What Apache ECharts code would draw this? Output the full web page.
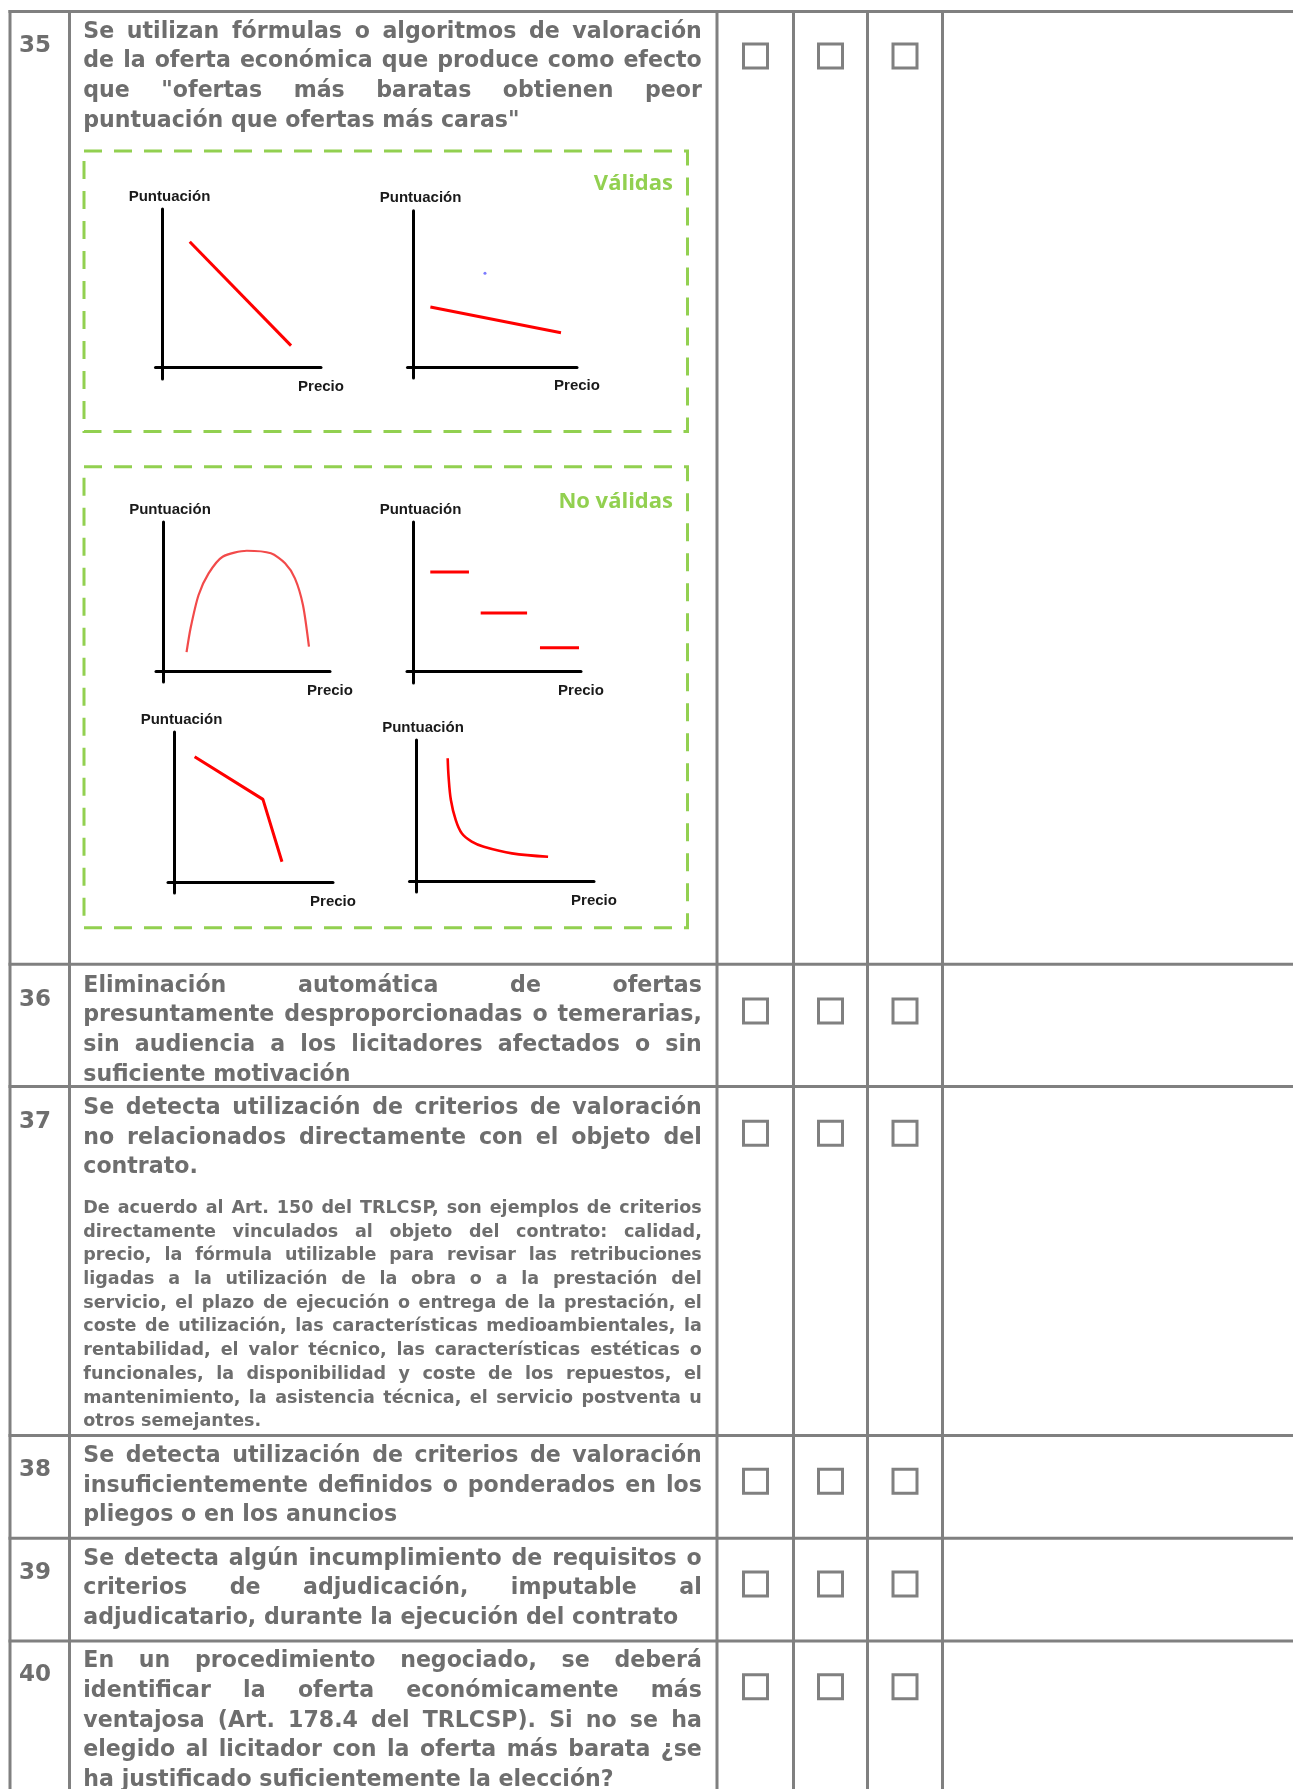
<!DOCTYPE html>
<html>
<head>
<meta charset="utf-8">
<script src="https://cdn.jsdelivr.net/npm/echarts@6/dist/echarts.min.js"></script>
<style>
  html, body { margin: 0; padding: 0; background: #fff; }
  #main { width: 1293px; height: 1789px; }
</style>
</head>
<body>
<div id="main"></div>
<script>
  // ---- table content ----
  var rowNumbers = ['35', '36', '37', '38', '39', '40']
  var rowTexts = [
    ['Se utilizan fórmulas o algoritmos de valoración',
      'de la oferta económica que produce como efecto',
      'que "ofertas más baratas obtienen peor',
      'puntuación que ofertas más caras"'],
    ['Eliminación automática de ofertas',
      'presuntamente desproporcionadas o temerarias,',
      'sin audiencia a los licitadores afectados o sin',
      'suficiente motivación'],
    ['Se detecta utilización de criterios de valoración',
      'no relacionados directamente con el objeto del',
      'contrato.'],
    ['Se detecta utilización de criterios de valoración',
      'insuficientemente definidos o ponderados en los',
      'pliegos o en los anuncios'],
    ['Se detecta algún incumplimiento de requisitos o',
      'criterios de adjudicación, imputable al',
      'adjudicatario, durante la ejecución del contrato'],
    ['En un procedimiento negociado, se deberá',
      'identificar la oferta económicamente más',
      'ventajosa (Art. 178.4 del TRLCSP). Si no se ha',
      'elegido al licitador con la oferta más barata ¿se',
      'ha justificado suficientemente la elección?']
  ]
  var noteLines = [
    'De acuerdo al Art. 150 del TRLCSP, son ejemplos de criterios',
    'directamente vinculados al objeto del contrato: calidad,',
    'precio, la fórmula utilizable para revisar las retribuciones',
    'ligadas a la utilización de la obra o a la prestación del',
    'servicio, el plazo de ejecución o entrega de la prestación, el',
    'coste de utilización, las características medioambientales, la',
    'rentabilidad, el valor técnico, las características estéticas o',
    'funcionales, la disponibilidad y coste de los repuestos, el',
    'mantenimiento, la asistencia técnica, el servicio postventa u',
    'otros semejantes.'
  ]
  var groupTitles = ['Válidas', 'No válidas']
  var axisNames = ['Puntuación', 'Precio']

  // ---- mini chart data (axis length 0..10 each way) ----
  var lineA = [[1.72, 7.93], [8.11, 1.35]]
  var lineB = [[1.03, 3.83], [9.02, 2.18]]
  var dotB = [[4.37, 6.0]]
  var curveC = [[1.41, 1.26], [1.65, 2.87], [2.13, 5.1], [2.73, 6.55], [3.57, 7.67], [5.02, 8.07],
    [6.46, 7.9], [7.31, 7.23], [7.9, 6.22], [8.38, 4.43], [8.74, 1.63]]
  var stepsF = [
    [[1.0, 6.64], [3.31, 6.64]],
    [[4.01, 3.89], [6.78, 3.89]],
    [[7.55, 1.56], [9.88, 1.56]]
  ]
  var lineD = [[1.27, 8.35], [5.58, 5.51], [6.78, 1.35]]
  var curveE = [[1.78, 8.7], [1.83, 7.4], [1.96, 5.74], [2.23, 4.33], [2.57, 3.38], [3.13, 2.79],
    [3.81, 2.43], [5.39, 1.96], [7.42, 1.72]]

  // ---- layout ----
  var FAMILY = '"DejaVu Sans"'
  var TEXT_COLOR = '#6e6e6e'
  var LINE_COLOR = '#808080'
  var GREEN = '#92d050'
  var TEXT_X = 83.3
  var TEXT_W = 618.5
  var colX = [10, 69.5, 717, 793.5, 867.5, 942.5]
  var rowY = [11.5, 964.3, 1086.4, 1435.6, 1538.3, 1641]
  var firstLineY = [31.9, 986, 1108.1, 1456.2, 1558.9, 1661.6]
  var numberY = [45.7, 999.7, 1121.8, 1469.9, 1572.6, 1675.3]
  var boxY = [55.9, 1011.1, 1133.2, 1481.3, 1584, 1686.7]
  var boxX = [755.5, 830.5, 905]
  var panels = [
    { left: 155.5, top: 209, width: 165.5, height: 170, xMin: -0.44, yMin: -0.76 },
    { left: 407.5, top: 210.7, width: 169.5, height: 167.3, xMin: -0.37, yMin: -0.72 },
    { left: 156, top: 522, width: 174, height: 160, xMin: -0.42, yMin: -0.74 },
    { left: 407, top: 522, width: 174, height: 161, xMin: -0.39, yMin: -0.81 },
    { left: 168, top: 732, width: 165, height: 161, xMin: -0.41, yMin: -0.73 },
    { left: 409.5, top: 740, width: 184.5, height: 152, xMin: -0.365, yMin: -0.78 }
  ]

  var mctx = document.createElement('canvas').getContext('2d')
  function textWidth(s, font) {
    mctx.font = font
    return mctx.measureText(s).width
  }

  // font size so that the short last lines keep their width, and justified lines still fit
  function fitSize(samples, lines) {
    var base = 20
    var font = 'bold ' + base + 'px ' + FAMILY
    var measured = 0
    var target = 0
    samples.forEach(function (s) {
      measured += textWidth(s[0], font)
      target += s[1]
    })
    var size = (base * target) / measured
    lines.forEach(function (l) {
      var words = l.split(' ')
      var w = words.reduce(function (a, b) { return a + textWidth(b, font) }, 0)
      size = Math.min(size, (base * (TEXT_W - 5 * (words.length - 1))) / w)
    })
    return size
  }

  var justifiedMain = []
  rowTexts.forEach(function (p) { justifiedMain = justifiedMain.concat(p.slice(0, -1)) })
  var mainSize = fitSize([
    ['puntuación que ofertas más caras"', 445],
    ['suficiente motivación', 269],
    ['contrato.', 113],
    ['pliegos o en los anuncios', 317],
    ['ha justificado suficientemente la elección?', 519]
  ], justifiedMain)
  var noteSize = fitSize([['otros semejantes.', 178]], noteLines.slice(0, -1))

  var elements = []

  function paragraph(lines, y0, lh, size) {
    var font = 'bold ' + size + 'px ' + FAMILY
    var space = textWidth(' ', font)
    lines.forEach(function (line, i) {
      var words = line.split(' ')
      var widths = words.map(function (w) { return textWidth(w, font) })
      var total = widths.reduce(function (a, b) { return a + b }, 0)
      var last = i === lines.length - 1
      var gap = last || words.length < 2 ? space : (TEXT_W - total) / (words.length - 1)
      var x = TEXT_X
      words.forEach(function (w, j) {
        elements.push({
          type: 'text', x: x, y: y0 + i * lh, silent: true,
          style: { text: w, font: font, fill: TEXT_COLOR, textVerticalAlign: 'middle', verticalAlign: 'middle' }
        })
        x += widths[j] + gap
      })
    })
  }

  // table rules
  var lineStyle = { stroke: LINE_COLOR, lineWidth: 3 }
  colX.forEach(function (x) {
    elements.push({ type: 'line', silent: true, shape: { x1: x, y1: rowY[0] - 1.5, x2: x, y2: 1789 }, style: lineStyle })
  })
  rowY.forEach(function (y) {
    elements.push({ type: 'line', silent: true, shape: { x1: colX[0] - 1.5, y1: y, x2: 1293, y2: y }, style: lineStyle })
  })

  rowNumbers.forEach(function (n, i) {
    elements.push({
      type: 'text', x: 19, y: numberY[i], silent: true,
      style: { text: n, font: 'bold 23px ' + FAMILY, fill: TEXT_COLOR, textVerticalAlign: 'middle', verticalAlign: 'middle' }
    })
    paragraph(rowTexts[i], firstLineY[i], 29.67, mainSize)
    boxX.forEach(function (x) {
      elements.push({
        type: 'rect', silent: true,
        shape: { x: x - 12, y: boxY[i] - 12, width: 24, height: 24 },
        style: { fill: '#fff', stroke: LINE_COLOR, lineWidth: 3 }
      })
    })
  })
  paragraph(noteLines, 1208.4, 23.7, noteSize)

  // dashed groups
  var groupBoxes = [[84, 151, 603.5, 280.5], [84, 466.7, 603.5, 461]]
  var titleY = [184, 502]
  groupBoxes.forEach(function (b, i) {
    elements.push({
      type: 'rect', silent: true,
      shape: { x: b[0], y: b[1], width: b[2], height: b[3] },
      style: { fill: 'none', stroke: GREEN, lineWidth: 3, lineDash: [18, 12] }
    })
    elements.push({
      type: 'text', x: 673, y: titleY[i], silent: true,
      style: {
        text: groupTitles[i], font: 'bold 22px "Open Sans"', fill: GREEN,
        textAlign: 'right', align: 'right', textVerticalAlign: 'middle', verticalAlign: 'middle'
      }
    })
  })

  // mini charts
  var grids = []
  var xAxes = []
  var yAxes = []
  var axisLine = { onZero: true, lineStyle: { color: '#000', width: 3 } }
  var nameFont = { fontFamily: 'Liberation Sans', fontWeight: 'bold', fontSize: 15, color: '#1a1a1a' }
  panels.forEach(function (p, i) {
    grids.push({ left: p.left, top: p.top, width: p.width, height: p.height, containLabel: false })
    xAxes.push({
      gridIndex: i, type: 'value', min: p.xMin, max: 10,
      splitLine: { show: false }, axisTick: { show: false }, axisLabel: { show: false }, axisLine: axisLine,
      name: axisNames[1], nameLocation: 'end', nameGap: 0,
      nameTextStyle: Object.assign({ align: 'center', verticalAlign: 'top', padding: [12, 0, 0, 0] }, nameFont)
    })
    yAxes.push({
      gridIndex: i, type: 'value', min: p.yMin, max: 10,
      splitLine: { show: false }, axisTick: { show: false }, axisLabel: { show: false }, axisLine: axisLine,
      name: axisNames[0], nameLocation: 'end', nameGap: 5,
      nameTextStyle: Object.assign({ align: 'center', verticalAlign: 'bottom', padding: [0, 0, 0, 14] }, nameFont)
    })
  })

  function redLine(idx, data, opts) {
    return Object.assign({
      type: 'line', xAxisIndex: idx, yAxisIndex: idx, data: data, symbol: 'none', silent: true,
      lineStyle: { color: '#ff0000', width: 3 }
    }, opts || {})
  }

  var series = [
    redLine(0, lineA),
    redLine(1, lineB),
    {
      type: 'scatter', xAxisIndex: 1, yAxisIndex: 1, data: dotB, symbolSize: 3, silent: true,
      itemStyle: { color: '#5a5aff' }
    },
    redLine(2, curveC, { smooth: 0.25, lineStyle: { color: '#f24a4a', width: 2.2 } }),
    redLine(4, lineD),
    redLine(5, curveE, { smooth: 0.35, lineStyle: { color: '#ff0000', width: 2.6 } })
  ]
  stepsF.forEach(function (s) { series.push(redLine(3, s)) })

  var chart = echarts.init(document.getElementById('main'), null, { renderer: 'canvas' })
  chart.setOption({
    animation: false,
    backgroundColor: '#fff',
    grid: grids,
    xAxis: xAxes,
    yAxis: yAxes,
    series: series,
    graphic: { elements: elements }
  })
</script>
</body>
</html>
